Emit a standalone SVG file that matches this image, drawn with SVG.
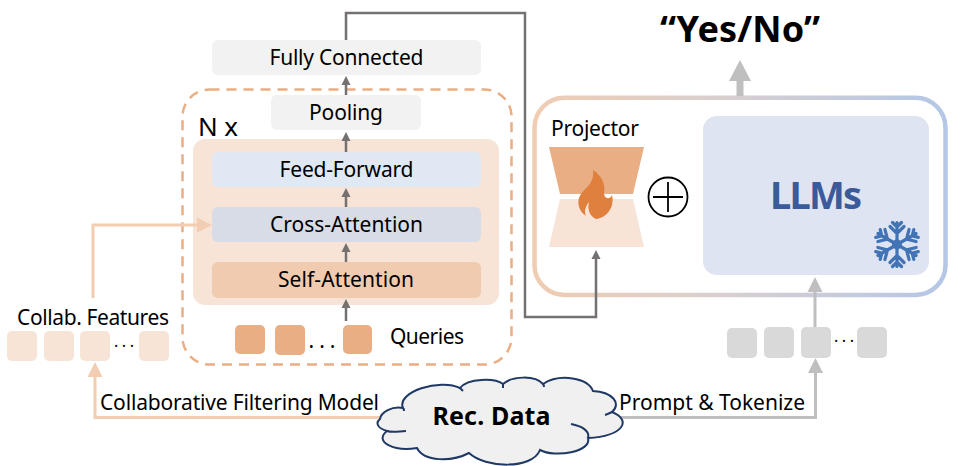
<svg xmlns="http://www.w3.org/2000/svg" width="961" height="466" viewBox="0 0 961 466">
<style>
text{font-family:"Noto Sans","Open Sans","Liberation Sans",sans-serif;fill:#000;font-size:21px}
.m{text-anchor:middle}
.b{font-weight:700}
.c{fill:none}
.g{stroke:#767171;stroke-width:2.5}
.l{stroke:#bfbfbf;stroke-width:3}
.o{stroke:#f3cdb2;stroke-width:3}
.q{fill:#e9ae84}
.f{fill:#f7e4d7}
.t{fill:#d9d9d9}
.n{fill:#f2f2f2}
.d{font-size:16px}
</style>
<defs>
<linearGradient id="fr" gradientUnits="userSpaceOnUse" x1="534" y1="0" x2="946" y2="0">
<stop offset="0" stop-color="#f0ccb2"/><stop offset="0.45" stop-color="#d9cfcf"/><stop offset="1" stop-color="#b4c7e7"/>
</linearGradient>
<marker id="ag" markerUnits="userSpaceOnUse" markerWidth="12" markerHeight="12" refX="2" refY="5.500" orient="auto"><path d="M0,1 L9,5.500 L0,10Z" fill="#767171"/></marker>
<marker id="al" markerUnits="userSpaceOnUse" markerWidth="18" markerHeight="18" refX="2" refY="8" orient="auto"><path d="M0,0.500 L15,8 L0,15.500Z" fill="#bfbfbf"/></marker>
<marker id="ao" markerUnits="userSpaceOnUse" markerWidth="18" markerHeight="18" refX="2" refY="8" orient="auto"><path d="M0,0.500 L15,8 L0,15.500Z" fill="#f3cdb2"/></marker>
<g id="arm" fill="none" stroke="#4273b5" stroke-width="3.200" stroke-linecap="round">
<path d="M0,0V-22M-7,-18L0,-11L7,-18M-4.500,-22L0,-17.500L4.500,-22"/>
</g>
</defs>

<g id="outer-loop"><rect x="182.500" y="89.500" width="329" height="275" rx="27" fill="none" stroke="#e9ae84" stroke-width="2.500" stroke-dasharray="10 7"/>
<text x="198" y="136" style="font-size:26px" textLength="40">N x</text></g>
<g id="block-bg"><rect x="193" y="139" width="306" height="166" rx="12" class="f"/></g>
<g id="fully-connected"><rect x="212" y="40" width="269" height="35" rx="6" class="n"/><text x="346.500" y="65" class="m" textLength="154">Fully Connected</text></g>
<g id="pooling"><rect x="271" y="95" width="150" height="35" rx="6" class="n"/><text x="346" y="120" class="m" textLength="74">Pooling</text></g>
<g id="feed-forward"><rect x="212" y="152" width="269" height="35" rx="6" fill="#dfe8f3"/><text x="346.500" y="177" class="m" textLength="134">Feed-Forward</text></g>
<g id="cross-attention"><rect x="212" y="207" width="269" height="35" rx="6" fill="#d7dce7"/><text x="346.500" y="232" class="m" textLength="153">Cross-Attention</text></g>
<g id="self-attention"><rect x="212" y="262" width="269" height="36" rx="6" fill="#f1cbb0"/><text x="346" y="287" class="m" textLength="136">Self-Attention</text></g>
<g id="queries">
<rect x="235" y="325" width="30" height="29" rx="5" class="q"/><rect x="275" y="325" width="30" height="30" rx="5" class="q"/><rect x="343" y="325" width="29" height="29" rx="5" class="q"/>
<text x="322" y="348" class="m" textLength="27">...</text>
<text x="390" y="344" textLength="74">Queries</text></g>
<g id="collab-features">
<text x="17" y="325" textLength="152">Collab. Features</text>
<rect x="7" y="331" width="30" height="30" rx="5" class="f"/><rect x="44" y="331" width="30" height="30" rx="5" class="f"/><rect x="80" y="331" width="30" height="30" rx="5" class="f"/><rect x="139" y="331" width="30" height="30" rx="5" class="f"/>
<text x="124" y="347" class="m d" textLength="20">...</text></g>
<g id="tokens">
<rect x="727" y="328" width="30" height="30" rx="5" class="t"/><rect x="764" y="327" width="30" height="31" rx="5" class="t"/><rect x="801" y="327" width="30" height="31" rx="5" class="t"/><rect x="857" y="327" width="30" height="31" rx="5" class="t"/>
<text x="844" y="342" class="m d" textLength="20">...</text></g>
<g id="frame"><rect x="534.500" y="97.700" width="411" height="197.300" rx="30" fill="none" stroke="url(#fr)" stroke-width="4.500"/></g>
<g id="projector">
<text x="551" y="136" textLength="88">Projector</text>
<path d="M549,147H644L633,194H560Z" class="q"/>
<path d="M560,199H633L644,247H549Z" class="f"/>
<path d="M593,170C601,175 606,184 604,193C604,199 610,200 612,195C615,208 606,218 596,219C590,216 587,210 589,202C585,207 584,212 586,216C580,212 577,205 579,198C583,188 595,185 593,170Z" fill="#e0803e"/>
</g>
<g id="plus"><circle cx="668" cy="197" r="19.500" fill="#fff" stroke="#000" stroke-width="1.800"/><path d="M653,197H683M668,182V212" stroke="#000" stroke-width="1.800" fill="none"/></g>
<g id="llms"><rect x="703" y="116" width="226" height="159" rx="14" fill="#dee4f2"/>
<text x="816" y="209" class="m b" style="font-size:38px;fill:#3b5a9a" textLength="92">LLMs</text>
<g transform="translate(897,244.500)"><use href="#arm"/><use href="#arm" transform="rotate(60)"/><use href="#arm" transform="rotate(120)"/><use href="#arm" transform="rotate(180)"/><use href="#arm" transform="rotate(240)"/><use href="#arm" transform="rotate(300)"/><circle r="5" fill="#4273b5"/></g>
</g>
<g id="yes-no"><text x="740" y="42" class="m b" style="font-size:36px" textLength="160">“Yes/No”</text></g>

<g id="connectors" class="c">
<path d="M346,40V13H525V317H596V257" class="c g" marker-end="url(#ag)"/>
<path d="M346,95V83" class="c g" marker-end="url(#ag)"/>
<path d="M346,152V139" class="c g" marker-end="url(#ag)"/>
<path d="M346,207V195" class="c g" marker-end="url(#ag)"/>
<path d="M346,262V250" class="c g" marker-end="url(#ag)"/>
<path d="M346,321V306" class="c g" marker-end="url(#ag)"/>
<path d="M93,298V225H199" class="c o" marker-end="url(#ao)"/>
<path d="M381,417.500H95V375" class="c o" marker-end="url(#ao)"/>
<path d="M621,417.500H815.500V371" class="c l" marker-end="url(#al)"/>
<path d="M815,327V290" class="c l" marker-end="url(#al)"/>
<path d="M740,96V80" fill="none" stroke="#bfbfbf" stroke-width="7"/>
<path d="M729,81L740,60L751,81Z" fill="#bfbfbf"/>
</g>
<text x="100" y="410" textLength="279">Collaborative Filtering Model</text>
<text x="619" y="410" textLength="186">Prompt &amp; Tokenize</text>
<g id="rec-data">
<path d="M380,419C381,412 392,406 403,408C396,392 440,378 460,388C468,378 495,378 503,384C512,376 535,375 543,384C560,373 588,378 593,391C612,392 622,403 612,412C632,420 624,436 588,438C592,452 555,458 540,450C532,470 485,468 469,453C452,462 424,462 417,448C395,452 373,442 387,431C376,428 376,422 380,419Z" fill="#f0f0f0" stroke="#1f3864" stroke-width="2"/>
<path d="M387,431C393,433 400,431 406,431M571,424C582,426 590,431 588,438M605,415C608,414 610,413 612,412M403,408C404,409 404,410 404,411M460,388C461,389 462,390 463,391M503,384C503,385 503,386 503,388M543,384C544,385 544,386 544,387" fill="none" stroke="#1f3864" stroke-width="2"/>
<text x="491.500" y="425" class="m b" style="font-size:25px" textLength="118">Rec. Data</text>
</g>
</svg>
